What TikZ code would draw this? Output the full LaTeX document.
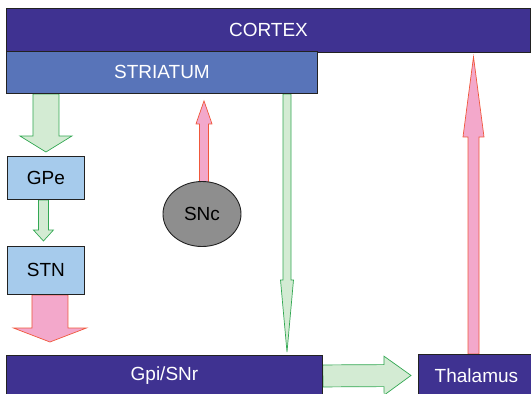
\documentclass[tikz,border=0pt]{standalone}
\usepackage{fontspec}
\setmainfont{Liberation Sans}
\usetikzlibrary{calc,shapes.geometric,backgrounds}
\definecolor{cortexc}{HTML}{3F3291}
\definecolor{striatumc}{HTML}{5874B9}
\definecolor{lightbluec}{HTML}{A6CBEC}
\definecolor{sncc}{HTML}{8E8E8E}
\definecolor{borderc}{HTML}{222222}
\definecolor{greenfill}{HTML}{D3EBD3}
\definecolor{greenline}{HTML}{33A853}
\definecolor{pinkfill}{HTML}{F3A8CB}
\definecolor{redline}{HTML}{F0583C}
\tikzset{
  region/.style={draw=borderc, line width=0.9pt, anchor=north west, inner sep=0pt,
    font=\fontsize{19}{22}\selectfont},
  darkregion/.style={region, fill=cortexc, text=white},
  midregion/.style={region, fill=striatumc, text=white},
  lightregion/.style={region, fill=lightbluec, text=black},
  greenarrow/.style={draw=greenline, fill=greenfill, line width=0.7pt},
  pinkarrow/.style={draw=redline, fill=pinkfill, line width=0.7pt},
}
% #1 style, #2 from, #3 to, #4 shaft half width, #5 head half width, #6 head length
\newcommand\blockarrow[6]{%
  \coordinate (ba-s) at ($(#3)!#6!(#2)$);
  \draw[#1] ($(#2)!#4!90:(#3)$) -- ($(ba-s)!#4!-90:(#2)$) -- ($(ba-s)!#5!-90:(#2)$)
    -- (#3) -- ($(ba-s)!#5!90:(#2)$) -- ($(ba-s)!#4!90:(#2)$) -- ($(#2)!#4!-90:(#3)$) -- cycle;
}
\begin{document}
\begin{tikzpicture}[x=1pt,y=-1pt]
\useasboundingbox (0,0) rectangle (531,394);
\clip (0,0) rectangle (531,394);
\node[darkregion, minimum width=524pt, minimum height=44pt] (cortex) at (6,8) {CORTEX};
\node[midregion, minimum width=311pt, minimum height=42pt] (striatum) at (6,51) {STRIATUM};
\node[lightregion, minimum width=77pt, minimum height=43pt] (gpe) at (7,156) {GPe};
\node[lightregion, minimum width=77pt, minimum height=48pt] (stn) at (7,246) {STN};
\node[darkregion, minimum width=316pt, minimum height=41pt] (gpi) at (6,355) {Gpi/SNr};
\node[darkregion, minimum width=116pt, minimum height=42pt] (thal) at (418,354) {Thalamus};
\node[ellipse, draw=borderc, line width=0.9pt, fill=sncc, minimum width=78pt, minimum height=65pt,
  inner sep=0pt, font=\fontsize{19}{22}\selectfont] (snc) at (202,214) {SNc};

\coordinate (a1s) at (gpe.north |- striatum.south);
\coordinate (a1e) at ($(gpe.north)+(0,-4)$);
\coordinate (a2s) at ($(gpe.south)+(-2.5,0)$);
\coordinate (a2e) at ($(stn.north)+(-2.5,-5)$);
\coordinate (a3s) at ($(stn.south)+(4,0)$);
\coordinate (a3e) at ($(a3s |- gpi.north)+(0,-13)$);
\coordinate (a4s) at ($(striatum.south west)+(281,0)$);
\coordinate (a4e) at ($(a4s |- gpi.north)+(0,-3)$);
\coordinate (a5e) at ($(thal.west)+(-7,0)$);
\coordinate (a6s) at ($(thal.north west)+(55.5,0)$);
\coordinate (a6e) at ($(a6s |- cortex.south)+(0,4)$);
\coordinate (a7s) at ($(snc.north)+(2,4)$);
\coordinate (a7e) at ($(a7s |- striatum.south)+(0,7)$);

\begin{scope}[on background layer]
\blockarrow{greenarrow}{a1s}{a1e}{13pt}{26pt}{16pt}
\blockarrow{greenarrow}{a2s}{a2e}{5pt}{10pt}{11pt}
\blockarrow{pinkarrow}{a3s}{a3e}{18pt}{36.5pt}{14pt}
\blockarrow{greenarrow}{a4s}{a4e}{4pt}{6.5pt}{72pt}
\blockarrow{greenarrow}{gpi.east}{a5e}{11pt}{19.5pt}{27pt}
\blockarrow{pinkarrow}{a6s}{a6e}{5.5pt}{10.5pt}{80pt}
\blockarrow{pinkarrow}{a7s}{a7e}{4.5pt}{8pt}{23pt}
\end{scope}
\end{tikzpicture}
\end{document}
